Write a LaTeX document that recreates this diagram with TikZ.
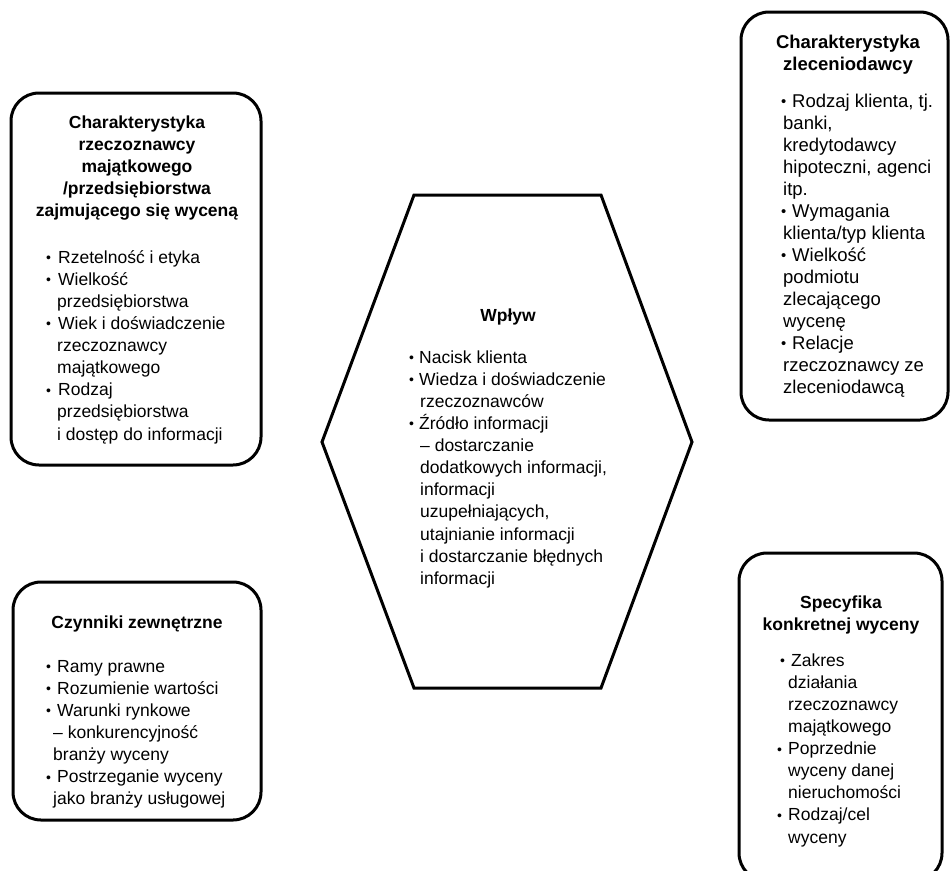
\documentclass[tikz,border=0pt]{standalone}
\usepackage{graphicx}
\usepackage{fontspec}
\setmainfont{Liberation Sans}
\newcommand\bul[1][11pt]{\makebox[#1][l]{\raisebox{0.6pt}{\scalebox{0.8}{•}}}}
\newcommand\ind[1][11pt]{\hspace*{#1}}
\newcommand\st{\rule{0pt}{17pt}}
\begin{document}
\begin{tikzpicture}[x=1pt,y=-1pt,
  box/.style={draw, line width=3pt, rounded corners=28pt, inner sep=0pt},
  hexline/.style={draw, line width=3pt, line join=miter},
  hd/.style={font=\fontsize{17.5}{22.1}\selectfont\bfseries, align=center, inner sep=0pt, anchor=north},
  bl/.style={font=\fontsize{17.5}{22.1}\selectfont, align=left, inner sep=0pt, anchor=north west},
  big/.style={font=\fontsize{18.5}{22}\selectfont}]
\useasboundingbox (0,0) rectangle (950,870);
\clip (0,0) rectangle (950,870);

% boxes
\node[box, minimum width=250pt, minimum height=372pt] (b1) at (136,279) {};
\node[box, minimum width=207pt, minimum height=408pt] (b2) at (844.5,216) {};
\node[box, minimum width=248pt, minimum height=238pt] (b3) at (137,701) {};
\node[box, minimum width=203pt, minimum height=328pt] (b4) at (840.5,717) {};

% hexagon
\coordinate (h1) at (414,195);
\coordinate (h2) at (601,195);
\coordinate (h3) at (692,442);
\coordinate (h4) at (601,688);
\coordinate (h5) at (414,688);
\coordinate (h6) at (322,442);
\draw[hexline] (h1) -- (h2) -- (h3) -- (h4) -- (h5) -- (h6) -- cycle;

% box 1
\node[hd] (t1) at (137,111) {\st Charakterystyka\\rzeczoznawcy\\majątkowego\\/przedsiębiorstwa\\zajmującego się wyceną};
\node[bl] (l1) at (46,246) {\st\bul[12pt]Rzetelność i etyka\\
\bul[12pt]Wielkość\\
\ind przedsiębiorstwa\\
\bul[12pt]Wiek i doświadczenie\\
\ind rzeczoznawcy\\
\ind majątkowego\\
\bul[12pt]Rodzaj\\
\ind przedsiębiorstwa\\
\ind i dostęp do informacji};

% box 2
\node[hd, font=\fontsize{18.5}{22}\selectfont\bfseries] (t2) at (848,31) {\st Charakterystyka\\zleceniodawcy};
\node[bl, big] (l2) at (781,90) {\st\bul Rodzaj klienta, tj.\\
\ind[2pt]banki,\\
\ind[2pt]kredytodawcy\\
\ind[2pt]hipoteczni, agenci\\
\ind[2pt]itp.\\
\bul Wymagania\\
\ind[2pt]klienta/typ klienta\\
\bul Wielkość\\
\ind[2pt]podmiotu\\
\ind[2pt]zlecającego\\
\ind[2pt]wycenę\\
\bul Relacje\\
\ind[2pt]rzeczoznawcy ze\\
\ind[2pt]zleceniodawcą};

% hexagon text
\node[hd] (t0) at (508,304) {\st Wpływ};
\node[bl] (l0) at (409,346) {\st\bul[10pt]Nacisk klienta\\
\bul[10pt]Wiedza i doświadczenie\\
\ind rzeczoznawców\\
\bul[10pt]Źródło informacji\\
\ind – dostarczanie\\
\ind dodatkowych informacji,\\
\ind informacji\\
\ind uzupełniających,\\
\ind utajnianie informacji\\
\ind i dostarczanie błędnych\\
\ind informacji};

% box 3
\node[hd] (t3) at (137,611) {\st Czynniki zewnętrzne};
\node[bl] (l3) at (46,655) {\st\bul Ramy prawne\\
\bul Rozumienie wartości\\
\bul Warunki rynkowe\\
\ind[7pt]– konkurencyjność\\
\ind[7pt]branży wyceny\\
\bul Postrzeganie wyceny\\
\ind[7pt]jako branży usługowej};

% box 4
\node[hd] (t4) at (841,591) {\st Specyfika\\konkretnej wyceny};
\node[bl] (l4) at (777,649) {\st\hspace*{3pt}\bul Zakres\\
\ind działania\\
\ind rzeczoznawcy\\
\ind majątkowego\\
\bul Poprzednie\\
\ind wyceny danej\\
\ind nieruchomości\\
\bul Rodzaj/cel\\
\ind wyceny};
\end{tikzpicture}
\end{document}
